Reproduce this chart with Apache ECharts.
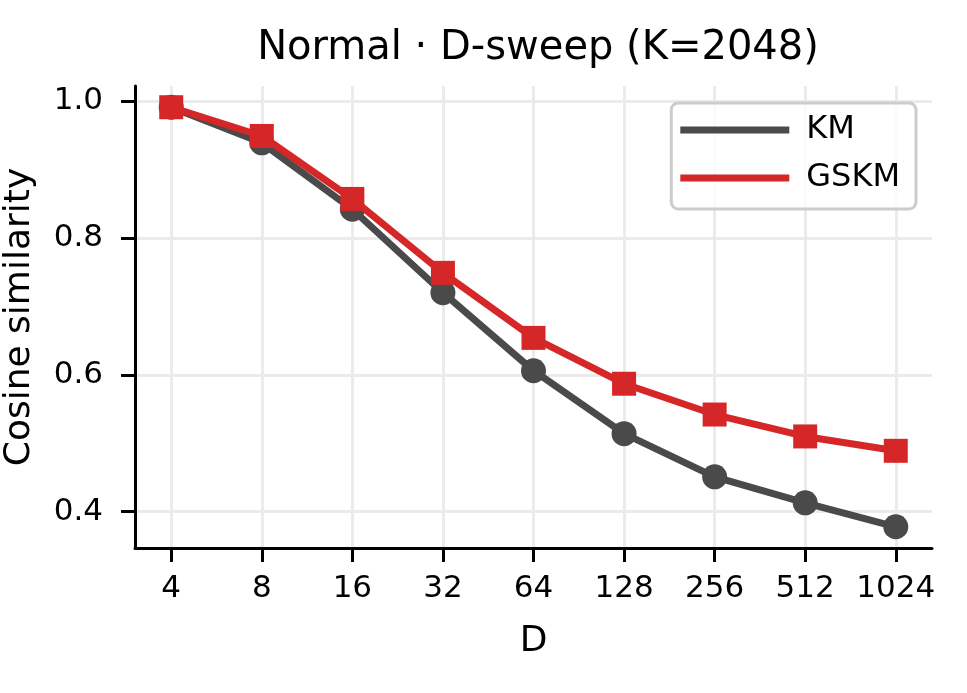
<!DOCTYPE html>
<html>
<head>
<meta charset="utf-8">
<script src="https://cdn.jsdelivr.net/npm/echarts@6/dist/echarts.min.js"></script>
<style>
  html, body { margin: 0; padding: 0; background: #fff; }
  #chart { width: 967px; height: 693px; }
</style>
</head>
<body>
<div id="chart"></div>
<script>
  // values
  var dims = ['4', '8', '16', '32', '64', '128', '256', '512', '1024'];
  var km = [0.991, 0.939, 0.842, 0.720, 0.606, 0.514, 0.451, 0.413, 0.378];
  var gskm = [0.991, 0.949, 0.857, 0.749, 0.654, 0.587, 0.542, 0.510, 0.489];
  var yTicks = [0.4, 0.6, 0.8, 1.0];

  var font = 'DejaVu Sans';
  var idx = dims.map(function (d, i) { return i; });

  function pairs(arr) {
    return arr.map(function (v, i) { return [i, v]; });
  }

  var chart = echarts.init(document.getElementById('chart'));
  var option = {
    animation: false,
    backgroundColor: '#fff',
    title: {
      text: 'Normal · D-sweep (K=2048)',
      left: 533,
      textAlign: 'center',
      top: 24,
      textStyle: { fontFamily: font, fontSize: 40, fontWeight: 'normal', color: '#000' }
    },
    legend: {
      right: 51,
      top: 103,
      orient: 'vertical',
      itemWidth: 109,
      itemHeight: 7,
      itemGap: 16,
      padding: [11, 16, 15, 9],
      borderColor: '#cccccc',
      borderWidth: 3,
      borderRadius: 7,
      backgroundColor: 'rgba(255,255,255,0.8)',
      icon: 'rect',
      textStyle: { fontFamily: font, fontSize: 32, color: '#000', padding: [0, 0, 0, 12] },
      data: ['KM', 'GSKM']
    },
    grid: { left: 135, right: 35, top: 86, bottom: 145, outerBoundsMode: 'none' },
    xAxis: {
      type: 'value',
      min: -0.4,
      max: 8.4,
      name: 'D',
      nameLocation: 'middle',
      nameGap: 76,
      nameTextStyle: { fontFamily: font, fontSize: 36, color: '#000' },
      axisLine: { onZero: false, lineStyle: { color: '#000', width: 3 } },
      axisTick: { show: true, customValues: idx, length: 14, lineStyle: { color: '#000', width: 3 } },
      axisLabel: {
        customValues: idx,
        margin: 25,
        fontFamily: font, fontSize: 31, color: '#000',
        formatter: function (v) { return dims[Math.round(v)]; }
      },
      splitLine: { show: true, lineStyle: { color: '#ebebeb', width: 3 } }
    },
    yAxis: {
      type: 'value',
      min: 0.347,
      max: 1.022,
      name: 'Cosine similarity',
      nameLocation: 'middle',
      nameGap: 97,
      nameTextStyle: { fontFamily: font, fontSize: 36, color: '#000' },
      axisLine: { show: true, onZero: false, lineStyle: { color: '#000', width: 3 } },
      axisTick: { show: true, customValues: yTicks, length: 14, lineStyle: { color: '#000', width: 3 } },
      axisLabel: {
        customValues: yTicks,
        margin: 32,
        fontFamily: font, fontSize: 31, color: '#000',
        formatter: function (v) { return v.toFixed(1); }
      },
      splitLine: { show: true, lineStyle: { color: '#ebebeb', width: 3 } }
    },
    series: [
      {
        name: 'KM',
        type: 'line',
        data: pairs(km),
        symbol: 'circle',
        symbolSize: 25,
        itemStyle: { color: '#4a4a4a' },
        lineStyle: { color: '#4a4a4a', width: 7 },
        z: 2
      },
      {
        name: 'GSKM',
        type: 'line',
        data: pairs(gskm),
        symbol: 'rect',
        symbolSize: 24,
        itemStyle: { color: '#d62728' },
        lineStyle: { color: '#d62728', width: 7 },
        z: 3
      }
    ]
  };
  chart.setOption(option);
</script>
</body>
</html>
